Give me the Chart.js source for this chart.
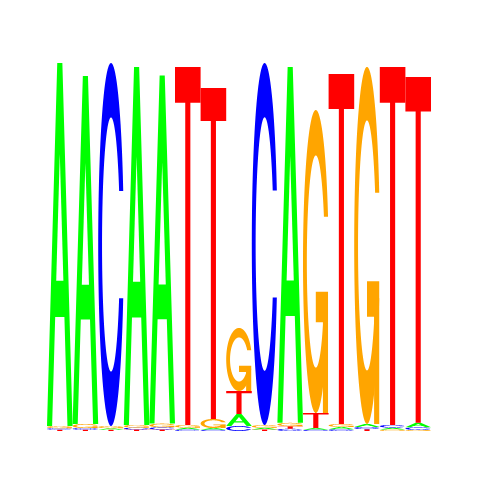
<!DOCTYPE html>
<html>
<head>
<meta charset="utf-8">
<script src="https://cdn.jsdelivr.net/npm/chart.js@4/dist/chart.umd.min.js"></script>
<style>
  html, body { margin: 0; padding: 0; background: #ffffff; }
  #wrap { width: 480px; height: 480px; }
</style>
</head>
<body>
<div id="wrap"><canvas id="logo" width="480" height="480"></canvas></div>
<script>
// Sequence logo data (heights in bits per base, per position)
const positions = ['1','2','3','4','5','6','7','8','9','10','11','12','13','14','15'];
const heightA = [1.962, 1.881, 0.008, 1.935, 1.881, 0.010, 0.009, 0.065, 0.009, 1.924, 0.009, 0.012, 0.016, 0.010, 0.024];
const heightC = [0.008, 0.009, 1.962, 0.010, 0.012, 0.008, 0.007, 0.027, 1.957, 0.012, 0.007, 0.010, 0.012, 0.015, 0.014];
const heightG = [0.012, 0.022, 0.012, 0.015, 0.020, 0.015, 0.049, 0.341, 0.015, 0.018, 1.638, 0.016, 1.930, 0.008, 0.006];
const heightT = [0.007, 0.007, 0.007, 0.008, 0.008, 1.935, 1.789, 0.124, 0.008, 0.014, 0.081, 1.892, 0.010, 1.935, 1.870];
const bases = ['A', 'C', 'G', 'T'];
const baseColors = { A: '#00ff00', C: '#0000ff', G: '#ffa500', T: '#ff0000' };

// Build rank-ordered stacked datasets (smallest letter at bottom)
const byBase = { A: heightA, C: heightC, G: heightG, T: heightT };
const rankData = [[], [], [], []];
const rankLetters = [[], [], [], []];
positions.forEach((p, i) => {
  const order = bases.map(b => ({ b, h: byBase[b][i] })).sort((u, v) => u.h - v.h);
  order.forEach((o, r) => { rankData[r].push(o.h); rankLetters[r].push(o.b); });
});
const datasets = rankData.map((d, r) => ({
  label: 'rank' + (r + 1),
  data: d,
  letters: rankLetters[r],
  backgroundColor: 'rgba(0,0,0,0)',
  borderWidth: 0,
  barPercentage: 1.0,
  categoryPercentage: 1.0
}));

// Letter glyph polygons (unit square, y up), seqLogo style
function linspace(a, b, n) { const o = []; for (let i = 0; i < n; i++) o.push(a + (b - a) * i / (n - 1)); return o; }
function ringShape() {
  const a1 = linspace(0.3 + Math.PI / 2, Math.PI, 100);
  const a2 = linspace(Math.PI, 1.5 * Math.PI, 100);
  const xl1 = a1.map(a => 0.5 + 0.5 * Math.sin(a)), yl1 = a1.map(a => 0.5 + 0.5 * Math.cos(a));
  const xl2 = a2.map(a => 0.5 + 0.5 * Math.sin(a)), yl2 = a2.map(a => 0.5 + 0.5 * Math.cos(a));
  const xl = xl1.concat(xl2), yl = yl1.concat(yl2);
  const x = xl.concat(xl.slice().reverse());
  const y = yl.concat(yl.slice().reverse().map(v => 1 - v));
  const maxY = Math.max(...yl1);
  let xi1 = [], yi1 = [];
  a1.forEach(a => {
    const yy = 0.5 + 0.35 * Math.cos(a);
    if (yy <= maxY) { xi1.push(0.5 + 0.35 * Math.sin(a)); yi1.push(yy); }
  });
  yi1[0] = maxY;
  const xi2 = a2.map(a => 0.5 + 0.35 * Math.sin(a)), yi2 = a2.map(a => 0.5 + 0.35 * Math.cos(a));
  const xi = xi1.concat(xi2), yi = yi1.concat(yi2);
  const x1 = xi.concat(xi.slice().reverse());
  const y1 = yi.concat(yi.slice().reverse().map(v => 1 - v));
  const X = x.concat(x1.slice().reverse()), Y = y.concat(y1.slice().reverse());
  return { pts: X.map((v, k) => [v, Y[k]]), r1: Math.max(...xl1) };
}
const ring = ringShape();
const glyphs = {
  A: [
    { fill: null, pts: [[0,0],[0.4,1],[0.6,1],[1,0],[0.8,0],[0.68,0.3],[0.32,0.3],[0.2,0],[0,0]] },
    { fill: '#ffffff', pts: [[0.36,0.4],[0.5,0.75],[0.64,0.4],[0.36,0.4]] }
  ],
  C: [ { fill: null, pts: ring.pts } ],
  G: [
    { fill: null, pts: ring.pts },
    { fill: null, pts: [[ring.r1,0.4],[0.5,0.4],[0.5,0.3],[ring.r1-0.2,0.3],[ring.r1-0.2,0],[ring.r1,0],[ring.r1,0.4]] }
  ],
  T: [ { fill: null, pts: [[0,1],[1,1],[1,0.9],[0.6,0.9],[0.6,0],[0.4,0],[0.4,0.9],[0,0.9]] } ]
};

const letterPlugin = {
  id: 'letterPlugin',
  afterDatasetsDraw(chart) {
    const ctx = chart.ctx;
    chart.data.datasets.forEach((ds, di) => {
      const meta = chart.getDatasetMeta(di);
      meta.data.forEach((el, i) => {
        const p = el.getProps(['x', 'y', 'base', 'width'], true);
        const letter = ds.letters[i];
        const left = p.x - p.width / 2, w = p.width;
        const top = Math.min(p.y, p.base), bottom = Math.max(p.y, p.base);
        const h = bottom - top;
        if (h <= 0) return;
        glyphs[letter].forEach(part => {
          ctx.save();
          ctx.fillStyle = part.fill || baseColors[letter];
          ctx.beginPath();
          part.pts.forEach((pt, k) => {
            const px = left + w * pt[0], py = bottom - h * pt[1];
            if (k === 0) ctx.moveTo(px, py); else ctx.lineTo(px, py);
          });
          ctx.closePath();
          ctx.fill();
          ctx.restore();
        });
      });
    });
  }
};

new Chart(document.getElementById('logo'), {
  type: 'bar',
  data: { labels: positions, datasets },
  options: {
    responsive: false,
    devicePixelRatio: 1,
    animation: false,
    layout: { padding: { left: 47, right: 49, top: 61, bottom: 49 } },
    plugins: { legend: { display: false }, tooltip: { enabled: false } },
    scales: {
      x: { stacked: true, display: false, offset: true, grid: { display: false } },
      y: { stacked: true, display: false, min: 0, max: 2 }
    }
  },
  plugins: [letterPlugin]
});
</script>
</body>
</html>
